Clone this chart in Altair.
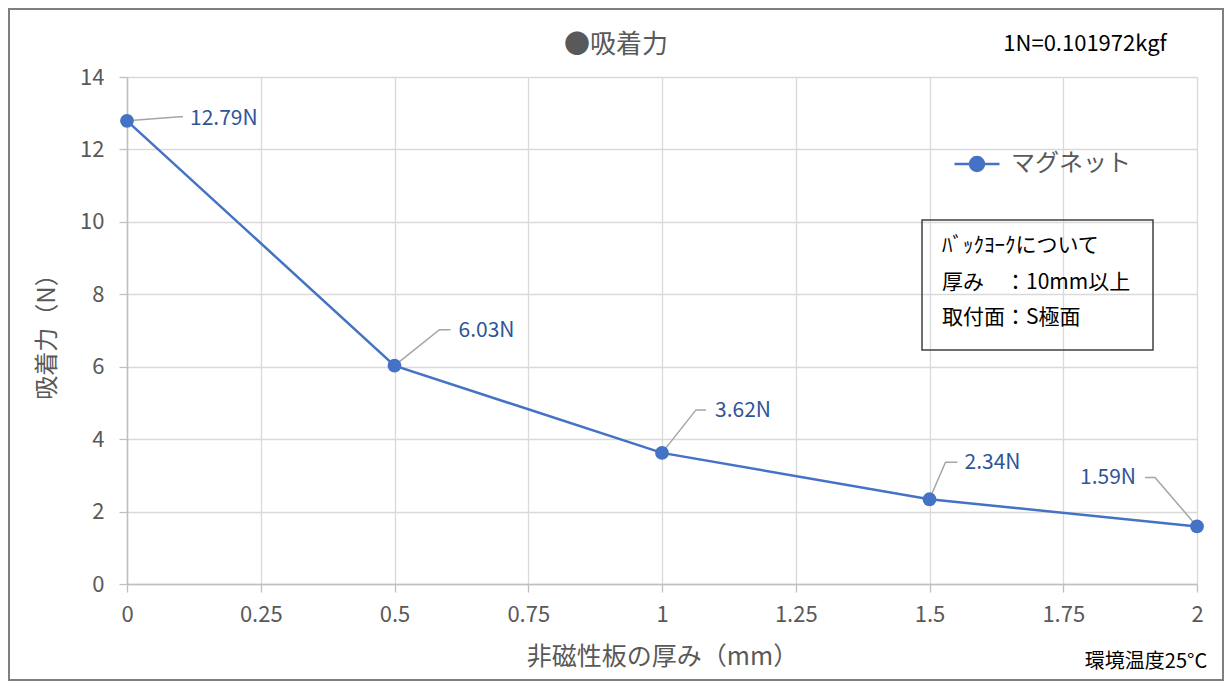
import altair as alt
import pandas as pd

# ---- data ----
thickness = [0, 0.5, 1, 1.5, 2]
force = [12.79, 6.03, 3.62, 2.34, 1.59]
value_labels = ["12.79N", "6.03N", "3.62N", "2.34N", "1.59N"]
series_name = "マグネット"
x_ticks = [0, 0.25, 0.5, 0.75, 1, 1.25, 1.5, 1.75, 2]
y_ticks = [0, 2, 4, 6, 8, 10, 12, 14]
chart_title = "●吸着力"
note_lines = ["ﾊﾞｯｸﾖｰｸについて", "厚み　：10mm以上", "取付面：S極面"]
unit_note = "1N=0.101972kgf"
temp_note = "環境温度25°C"

# ---- style ----
W, H = 1070, 507
PADL, PADT = 119, 69
TOTAL_W, TOTAL_H = 1216, 673
FONT = "Noto Sans CJK JP"
BLUE = "#4472C4"
LABEL_BLUE = "#2F5597"
GRAY_TXT = "#595959"
px_x = W / 2.0
px_y = H / 14.0
# leader line pixel offsets: (elbow dx, elbow dy, end dx, end dy, text dx, text dy, align)
leader = [
    (53, -4, 56, -4, 63, -2, "left"),
    (45, -36, 56, -36, 64, -35, "left"),
    (34, -43, 44, -43, 53, -42, "left"),
    (16, -37, 28, -37, 35, -36, "left"),
    (-42, -49, -52, -49, -61, -48, "right"),
]

df = pd.DataFrame({"x": thickness, "y": force, "s": [series_name] * len(force)})

lrows, trows = [], []
for i, (xv, yv, lab) in enumerate(zip(thickness, force, value_labels)):
    ex, ey, nx, ny, tx, ty, al = leader[i]
    pts = [(0, 0), (ex, ey), (nx, ny)]
    for k, (ox, oy) in enumerate(pts):
        lrows.append({"id": i, "k": k, "x": xv + ox / px_x, "y": yv - oy / px_y})
    trows.append({"x": xv + tx / px_x, "y": yv - ty / px_y, "t": lab, "al": al})
ldf = pd.DataFrame(lrows)
tdf = pd.DataFrame(trows)

xs = alt.Scale(domain=[0, 2], nice=False, zero=False)
ys = alt.Scale(domain=[0, 14], nice=False)

color = alt.Color(
    "s:N",
    scale=alt.Scale(domain=[series_name], range=[BLUE]),
    legend=alt.Legend(
        title=None, orient="none", legendX=826, legendY=63, padding=0,
        symbolType="M-1,0H1M-0.31,0a0.31,0.31 0 1,0 0.62,0a0.31,0.31 0 1,0 -0.62,0Z",
        symbolSize=2025, symbolStrokeWidth=2.5, symbolStrokeColor=BLUE,
        symbolFillColor=BLUE, labelFontSize=24, labelColor=GRAY_TXT,
        labelFont=FONT, labelOffset=10, symbolOpacity=1,
    ),
)

base = alt.Chart(df)

frame = alt.Chart(pd.DataFrame({"a": [0]})).mark_rect(
    fillOpacity=0, stroke="#7F7F7F", strokeWidth=2
).encode(
    x=alt.value(-PADL + 1), x2=alt.value(TOTAL_W - PADL - 1),
    y=alt.value(-PADT + 1), y2=alt.value(TOTAL_H - PADT - 1),
)

line = base.mark_line(strokeWidth=2.5).encode(
    x=alt.X("x:Q", scale=xs, axis=alt.Axis(
        values=x_ticks, labelExpr="format(datum.value, '~g')", labelFlush=False,
        title="非磁性板の厚み（mm）", grid=True, tickSize=8, labelPadding=12,
        titlePadding=19, titleFontSize=25)),
    y=alt.Y("y:Q", scale=ys, axis=alt.Axis(
        values=y_ticks, title="吸着力（N）", grid=True, tickSize=8,
        labelPadding=15, titlePadding=20, titleFontSize=24)),
    color=color,
)
points = base.mark_point(filled=True, size=190, opacity=1).encode(
    x=alt.X("x:Q", scale=xs), y=alt.Y("y:Q", scale=ys), color=color
)

leaders = alt.Chart(ldf).mark_line(color="#A5A5A5", strokeWidth=1.5).encode(
    x=alt.X("x:Q", scale=xs), y=alt.Y("y:Q", scale=ys), detail="id:N", order="k:Q"
)
txt_l = alt.Chart(tdf[tdf.al == "left"]).mark_text(
    align="left", baseline="middle", fontSize=21, color=LABEL_BLUE, font=FONT
).encode(x=alt.X("x:Q", scale=xs), y=alt.Y("y:Q", scale=ys), text="t:N")
txt_r = alt.Chart(tdf[tdf.al == "right"]).mark_text(
    align="right", baseline="middle", fontSize=21, color=LABEL_BLUE, font=FONT
).encode(x=alt.X("x:Q", scale=xs), y=alt.Y("y:Q", scale=ys), text="t:N")

box = alt.Chart(pd.DataFrame({"a": [0]})).mark_rect(
    fillOpacity=0, stroke="#404040", strokeWidth=1.5
).encode(x=alt.value(795), x2=alt.value(1026), y=alt.value(143), y2=alt.value(273))

note_y = [169, 206, 241]
notes = alt.layer(*[
    alt.Chart(pd.DataFrame({"t": [t]})).mark_text(
        align="left", baseline="middle", fontSize=21, color="black", font=FONT
    ).encode(x=alt.value(815), y=alt.value(yy), text="t:N")
    for t, yy in zip(note_lines, note_y)
])

title_txt = alt.Chart(pd.DataFrame({"t": [chart_title]})).mark_text(
    align="center", baseline="middle", fontSize=26, color=GRAY_TXT, font=FONT
).encode(x=alt.value(489), y=alt.value(-32), text="t:N")
unit_txt = alt.Chart(pd.DataFrame({"t": [unit_note]})).mark_text(
    align="center", baseline="middle", fontSize=22, color="black", font=FONT
).encode(x=alt.value(958), y=alt.value(-33), text="t:N")
temp_txt = alt.Chart(pd.DataFrame({"t": [temp_note]})).mark_text(
    align="center", baseline="middle", fontSize=20, color="black", font=FONT
).encode(x=alt.value(1019), y=alt.value(585), text="t:N")

chart = alt.layer(
    frame, line, leaders, points, txt_l, txt_r, box, notes, title_txt, unit_txt, temp_txt
).properties(
    width=W, height=H,
    padding={"left": PADL, "top": PADT, "right": TOTAL_W - PADL - W, "bottom": TOTAL_H - PADT - H},
    autosize=alt.AutoSizeParams(type="none"),
    background="white",
).configure_view(stroke=None).configure_axis(
    labelFont=FONT, titleFont=FONT, labelFontSize=22,
    labelColor=GRAY_TXT, titleColor=GRAY_TXT, titleFontWeight="normal",
    gridColor="#D9D9D9", gridWidth=1.3, domainColor="#BFBFBF", domainWidth=1.5,
    tickColor="#BFBFBF", tickWidth=1.3,
)

chart.save("out.html", embed_options={"renderer": "svg", "actions": False})
